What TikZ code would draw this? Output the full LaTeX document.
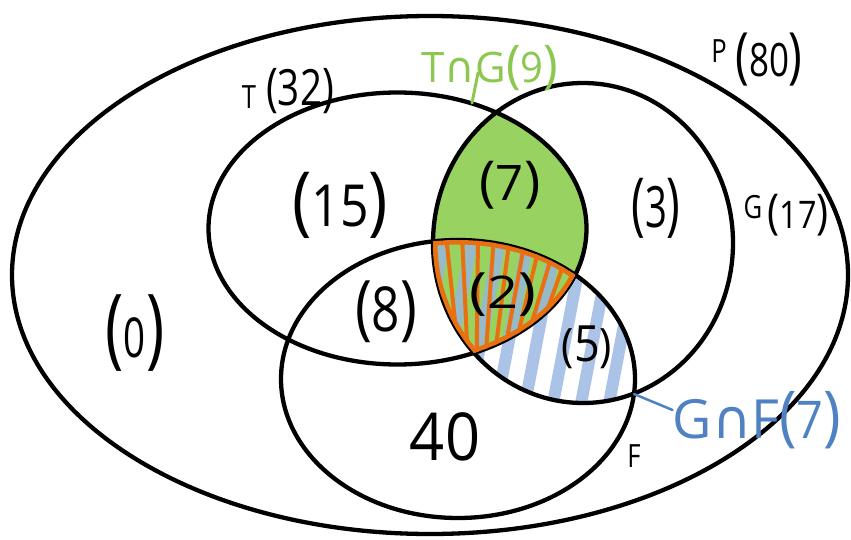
\documentclass[tikz,border=0pt]{standalone}
\usepackage{fontspec}
\usepackage{graphicx}
\setmainfont{Open Sans}
\newfontfamily\dvfont{DejaVu Sans}
\definecolor{vgreen}{RGB}{152,210,96}
\definecolor{tgreen}{RGB}{140,200,80}
\definecolor{vblue}{RGB}{150,180,226}
\definecolor{tblue}{RGB}{80,130,195}
\definecolor{vorange}{RGB}{232,112,16}
\newcommand\hwnum[4]{\scalebox{#4}[1]{{\fontsize{#1}{#1}\selectfont(}{\fontsize{#2}{#2}\selectfont#3}{\fontsize{#1}{#1}\selectfont)}}}
\newcommand\setlab[1]{\scalebox{0.8}[1]{\fontsize{32}{32}\selectfont #1}}
\def\Ppath{(430,275) ellipse [x radius=418, y radius=259]}
\def\Tpath{(397.5,228.5) ellipse [x radius=189, y radius=136]}
\def\Gpath{(583,243) ellipse [x radius=150, y radius=160]}
\def\Fpath{(458,379) ellipse [x radius=177, y radius=139]}
\begin{document}
\begin{tikzpicture}[x=1pt,y=-1pt,
  every node/.style={inner sep=0pt},
  ring/.style={draw=black,line width=4.3pt},
  bluehatch/.style={draw=vblue,line width=12pt,opacity=0.8},
  orangehatch/.style={draw=vorange,line width=4pt}]
\useasboundingbox (0,0) rectangle (851,540);
\fill[white] (0,0) rectangle (851,540);
% green T cap G
\begin{scope}
  \clip \Tpath;
  \fill[vgreen] \Gpath;
\end{scope}
% blue hatching G cap F
\begin{scope}
  \clip \Gpath;
  \clip \Fpath;
  \foreach \x in {380,408,...,700} \draw[bluehatch] (\x,430) -- (\x+40,220);
\end{scope}
% black rings
\draw[ring] \Ppath;
\draw[ring] \Tpath;
\draw[ring] \Gpath;
\draw[ring] \Fpath;
% orange T cap G cap F
\begin{scope}
  \clip \Tpath;
  \clip \Gpath;
  \clip \Fpath;
  \foreach \x in {430,446,...,590} \draw[orangehatch] (\x,235) -- ({475+(\x-475)*0.55},360);
  \draw[draw=vorange,line width=9pt] \Tpath;
  \draw[draw=vorange,line width=9pt] \Gpath;
  \draw[draw=vorange,line width=9pt] \Fpath;
\end{scope}
% region numbers
\node (n0) at (135,333) {\hwnum{88}{55}{0}{0.7}};
\node (n15) at (340,205) {\hwnum{76}{58}{15}{0.86}};
\node (n7) at (510,185) {\hwnum{55}{49}{7}{1.0}};
\node (n3) at (656,208) {\hwnum{69}{57}{3}{0.67}};
\node (n8) at (386,312) {\hwnum{71}{62}{8}{0.8}};
\node (n2) at (503,295) {\hwnum{50}{45}{2}{1.2}};
\node (n5) at (587,347) {\hwnum{46}{50}{5}{0.9}};
\node (n40) at (445,437) {\scalebox{0.93}[1]{\fontsize{66}{66}\selectfont 40}};
% set labels
\node (lT) at (249,97) {\setlab{T}};
\node (n32) at (300,91) {\hwnum{52}{50}{32}{0.77}};
\node (lP) at (719,51) {\setlab{P}};
\node (n80) at (769,60) {\hwnum{61}{46}{80}{0.76}};
\node (lG) at (753,207) {\setlab{G}};
\node (n17) at (798,215) {\hwnum{48}{38}{17}{0.85}};
\node (lF) at (634,456) {\setlab{F}};
% intersection labels
\node[text=tgreen] (lTG) at (490,68) {\fontsize{42}{42}\selectfont T{\dvfont ∩}G\hwnum{52}{42}{9}{0.95}};
\node[text=tblue] (lGF) at (757,420) {\fontsize{54}{54}\selectfont G{\dvfont ∩}F\hwnum{66}{52}{7}{0.9}};
\coordinate (tg) at (472,103);
\coordinate (gf) at (634,394);
\draw[tgreen,line width=3pt,line cap=round] ([xshift=-12pt,yshift=18pt]lTG.south) -- (tg);
\draw[tblue,line width=2.5pt,line cap=round] ([yshift=10pt]lGF.west) -- (gf);
\end{tikzpicture}
\end{document}
